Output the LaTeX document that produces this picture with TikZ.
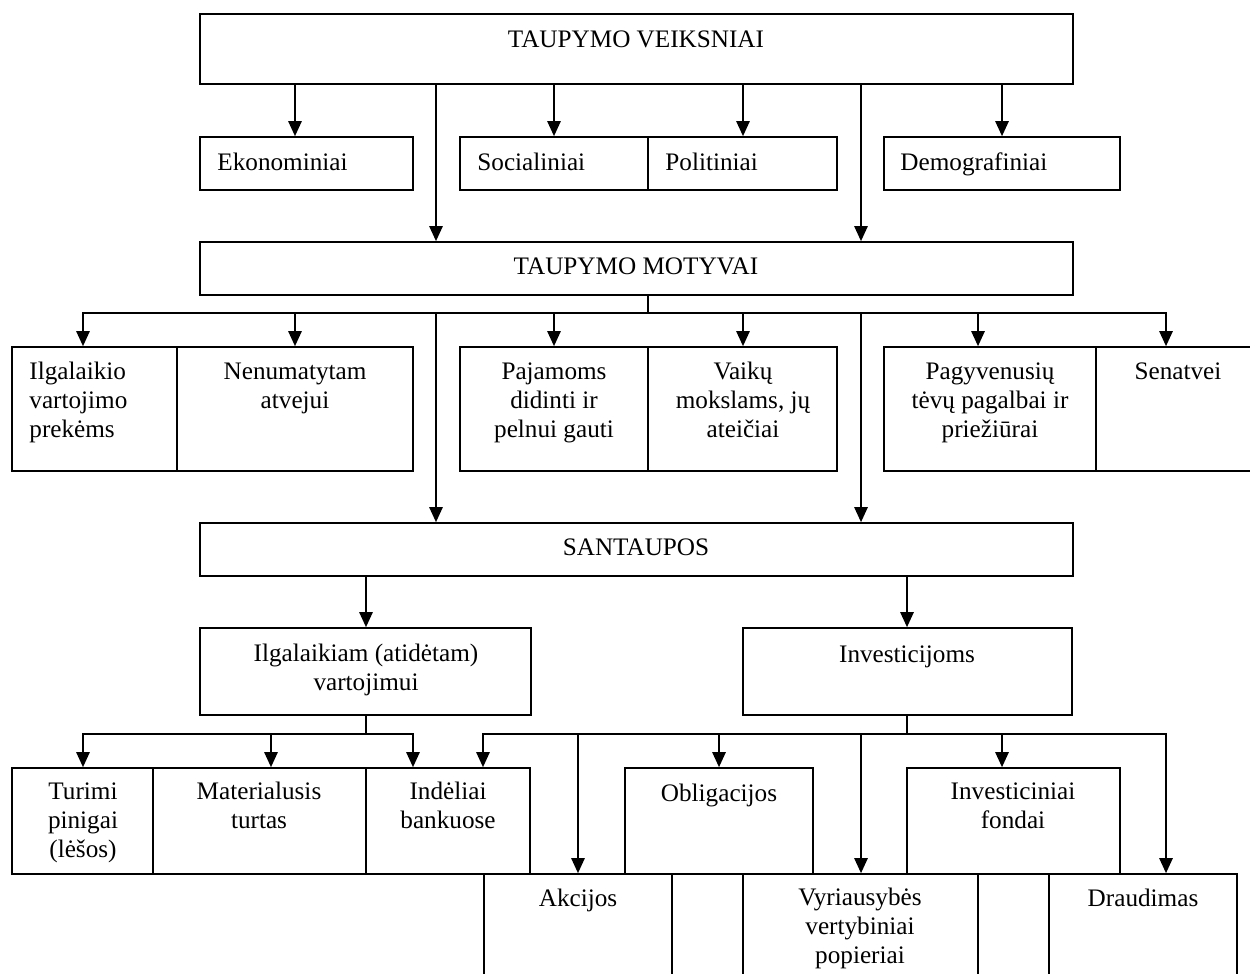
\documentclass[tikz,border=0pt]{standalone}
\usepackage{fontspec}
\setmainfont{Liberation Serif}
\usetikzlibrary{arrows.meta,fit}

% line break that keeps every line at the same strut height
\newcommand{\brk}{\strut\\\strut}

\begin{document}
\begin{tikzpicture}[x=0.4762pt,y=-0.4762pt,
  box/.style={draw, line width=0.8pt, inner sep=0pt},
  lbl/.style={font=\fontsize{12}{13.8}\selectfont, inner sep=0pt, align=center,
    execute at begin node=\strut, execute at end node=\strut},
  lbll/.style={lbl, anchor=west, align=left},
  wire/.style={line width=0.8pt, line cap=rect},
  arr/.style={wire, -{Triangle[width=6.4pt,length=7.2pt]}}]
\useasboundingbox (0,0) rectangle (1250,974);
\clip (0,0) rectangle (1250,974);

% ---- factors ----
\node[box, fit={(200,14)(1073,84)}] (veik) {};
\node[lbl] (veikT) at (636,42) {TAUPYMO VEIKSNIAI};

\node[box, fit={(200,137)(413,190)}] (ekon) {};
\node[lbll] (ekonT) at (217,165) {Ekonominiai};
\node[box, fit={(460,137)(648,190)}] (soc) {};
\node[lbll] (socT) at (477,165) {Socialiniai};
\node[box, fit={(648,137)(837,190)}] (pol) {};
\node[lbll] (polT) at (665,165) {Politiniai};
\node[box, fit={(884,137)(1120,190)}] (dem) {};
\node[lbll] (demT) at (900,165) {Demografiniai};

% ---- motives ----
\node[box, fit={(200,242)(1073,295)}] (mot) {};
\node[lbl] (motT) at (636,269) {TAUPYMO MOTYVAI};

\node[box, fit={(12,347)(177,471)}] (ilg) {};
\node[lbll] (ilgT) at (29,403) {Ilgalaikio\brk vartojimo\brk prekėms};
\node[box, fit={(177,347)(413,471)}] (nen) {};
\node[lbl] (nenT) at (295,388.5) {Nenumatytam\brk atvejui};
\node[box, fit={(460,347)(648,471)}] (paj) {};
\node[lbl] (pajT) at (554,403) {Pajamoms\brk didinti ir\brk pelnui gauti};
\node[box, fit={(648,347)(837,471)}] (vai) {};
\node[lbl] (vaiT) at (743,403) {Vaikų\brk mokslams, jų\brk ateičiai};
\node[box, fit={(884,347)(1096,471)}] (pag) {};
\node[lbl] (pagT) at (990,403) {Pagyvenusių\brk tėvų pagalbai ir\brk priežiūrai};
\node[box, fit={(1096,347)(1262,471)}] (sen) {};
\node[lbl] (senT) at (1178,374) {Senatvei};

% ---- savings ----
\node[box, fit={(200,523)(1073,576)}] (sant) {};
\node[lbl] (santT) at (636,550) {SANTAUPOS};

\node[box, fit={(200,628)(531,715)}] (ilgv) {};
\node[lbl] (ilgvT) at (366,670.5) {Ilgalaikiam (atidėtam)\brk vartojimui};
\node[box, fit={(743,628)(1072,715)}] (inv) {};
\node[lbl] (invT) at (907,657) {Investicijoms};

% ---- forms ----
\node[box, fit={(12,768)(153,874)}] (tur) {};
\node[lbl] (turT) at (83,823) {Turimi\brk pinigai\brk (lėšos)};
\node[box, fit={(153,768)(366,874)}] (mat) {};
\node[lbl] (matT) at (259,808.5) {Materialusis\brk turtas};
\node[box, fit={(366,768)(530,874)}] (ind) {};
\node[lbl] (indT) at (448,808.5) {Indėliai\brk bankuose};
\node[box, fit={(625,768)(813,874)}] (obl) {};
\node[lbl] (oblT) at (719,796) {Obligacijos};
\node[box, fit={(907,768)(1120,874)}] (inf) {};
\node[lbl] (infT) at (1013,808.5) {Investiciniai\brk fondai};

\node[box, fit={(484,874)(672,1000)}] (akc) {};
\node[lbl] (akcT) at (578,901) {Akcijos};
\node[box, fit={(743,874)(978,1000)}] (vyr) {};
\node[lbl] (vyrT) at (860,929) {Vyriausybės\brk vertybiniai\brk popieriai};
\node[box, fit={(1049,874)(1237,1000)}] (dra) {};
\node[lbl] (draT) at (1143,901) {Draudimas};

% ---- connectors: factors level ----
\foreach \x/\t in {295/ekon,436/mot,554/soc,743/pol,861/mot,1002/dem}{
  \coordinate (c) at (\x,0);
  \draw[arr] (veik.south -| c) -- (\t.north -| c);
}

% ---- connectors: motives level ----
\coordinate (mstem) at (648,313);
\coordinate (mL) at (83,313);
\coordinate (mR) at (1166,313);
\draw[wire] (mot.south -| mstem) -- (mstem);
\draw[wire] (mL) -- (mR);
\foreach \x/\t in {83/ilg,295/nen,554/paj,743/vai,978/pag,1166/sen,436/sant,861/sant}{
  \coordinate (c) at (\x,313);
  \draw[arr] (c) -- (\t.north -| c);
}

% ---- connectors: savings level ----
\foreach \x/\t in {366/ilgv,907/inv}{
  \coordinate (c) at (\x,0);
  \draw[arr] (sant.south -| c) -- (\t.north -| c);
}

% ---- connectors: long-term consumption ----
\coordinate (lstem) at (366,734);
\coordinate (lL) at (83,734);
\coordinate (lR) at (413,734);
\draw[wire] (ilgv.south -| lstem) -- (lstem);
\draw[wire] (lL) -- (lR);
\foreach \x/\t in {83/tur,271/mat,413/ind}{
  \coordinate (c) at (\x,734);
  \draw[arr] (c) -- (\t.north -| c);
}

% ---- connectors: investments ----
\coordinate (rstem) at (907,734);
\coordinate (rL) at (483,734);
\coordinate (rR) at (1166,734);
\draw[wire] (inv.south -| rstem) -- (rstem);
\draw[wire] (rL) -- (rR);
\foreach \x/\t in {483/ind,578/akc,719/obl,861/vyr,1002/inf,1166/dra}{
  \coordinate (c) at (\x,734);
  \draw[arr] (c) -- (\t.north -| c);
}
\end{tikzpicture}
\end{document}
